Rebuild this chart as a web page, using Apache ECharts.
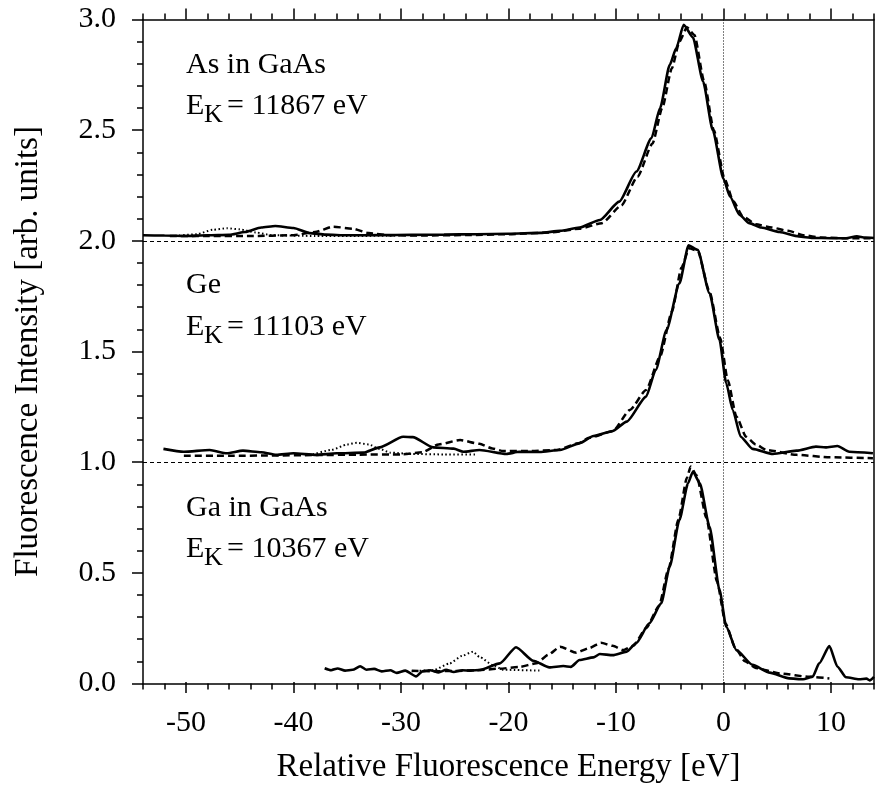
<!DOCTYPE html>
<html>
<head>
<meta charset="utf-8">
<script src="https://cdn.jsdelivr.net/npm/echarts@6/dist/echarts.min.js"></script>
<style>html,body{margin:0;padding:0;background:#fff;}#c{width:876px;height:789px;}</style>
</head>
<body>
<div id="c"></div>
<script>
// ---- data (x: relative energy eV, y: intensity, panels offset by 0/1/2) ----
const xRange = [-54, 14];
const yRange = [0, 3];
const xMajorRange = [-50, 10];
const refLinesY = [1, 2];
const refLineX = 0;

const asSolid = [[-54,2.025],[-52,2.024],[-50,2.022],[-48,2.025],[-46,2.027],[-44.5,2.04],[-43,2.06],[-41.7,2.067],[-40,2.058],[-38.5,2.035],[-37,2.028],[-35,2.025],[-32,2.026],[-29,2.027],[-26,2.028],[-23,2.03],[-20,2.032],[-17,2.036],[-15.2,2.045],[-13.4,2.06],[-11.5,2.094],[-9.7,2.177],[-8.1,2.313],[-6.7,2.464],[-5.9,2.6],[-5.0,2.795],[-4.4,2.87],[-3.7,2.976],[-2.85,2.92],[-1.9,2.72],[-1.0,2.5],[0,2.28],[0.6,2.2],[1.5,2.117],[2.4,2.08],[3.5,2.06],[5.2,2.04],[7,2.02],[8.3,2.013],[10,2.012],[11.4,2.012],[12.4,2.02],[13.2,2.015],[14,2.013]];
const asDashed = [[-51.5,2.022],[-48,2.022],[-44,2.022],[-40,2.025],[-38,2.04],[-36.3,2.064],[-34.5,2.055],[-33,2.035],[-31,2.025],[-28,2.024],[-24,2.026],[-20,2.03],[-16,2.038],[-13.4,2.055],[-11.3,2.08],[-9.5,2.16],[-8,2.29],[-6.6,2.44],[-5.7,2.6],[-4.8,2.78],[-4.1,2.9],[-3.4,2.965],[-2.7,2.93],[-1.8,2.72],[-0.9,2.5],[0.1,2.28],[0.9,2.18],[1.8,2.11],[3,2.075],[4.5,2.06],[6,2.045],[7.5,2.025],[9,2.015],[11,2.012],[14,2.012]];
const asDotted = [[-51,2.022],[-49,2.03],[-47.5,2.05],[-46.2,2.057],[-45,2.052],[-43.5,2.038],[-42,2.025],[-38,2.022],[-34,2.022],[-30,2.024]];

const geSolid = [[-52.1,1.06],[-50.2,1.047],[-47.8,1.055],[-46.2,1.04],[-44.7,1.052],[-43,1.045],[-41.6,1.033],[-40,1.04],[-37.9,1.033],[-36,1.04],[-33.5,1.043],[-32,1.067],[-29.8,1.115],[-28.9,1.113],[-27,1.067],[-25.1,1.061],[-24.2,1.047],[-22.7,1.055],[-20.2,1.037],[-19,1.047],[-17.1,1.046],[-15.2,1.055],[-13.4,1.085],[-12.1,1.118],[-10.3,1.141],[-9.0,1.183],[-7.2,1.296],[-6.3,1.417],[-5.3,1.597],[-4.1,1.808],[-3.25,1.98],[-2.4,1.959],[-1.3,1.763],[-0.37,1.552],[0.25,1.357],[0.86,1.236],[1.6,1.115],[2.7,1.06],[4.6,1.037],[6.8,1.052],[8.6,1.07],[9.5,1.067],[10.6,1.073],[11.7,1.047],[13.9,1.04]];
const geDashed = [[-50.2,1.029],[-46,1.029],[-42,1.03],[-38,1.032],[-34,1.034],[-30,1.035],[-28,1.045],[-26.5,1.08],[-24.5,1.1],[-22.7,1.083],[-21.5,1.062],[-20.5,1.05],[-18,1.05],[-15.5,1.055],[-13.5,1.085],[-12.5,1.11],[-10.3,1.14],[-8.7,1.236],[-7.2,1.326],[-5.9,1.477],[-4.8,1.68],[-3.9,1.88],[-3.2,1.966],[-2.4,1.955],[-1.3,1.77],[-0.3,1.56],[0.4,1.37],[1.2,1.206],[2.1,1.115],[3,1.08],[4,1.055],[6.8,1.033],[9.9,1.022],[13.9,1.018]];
const geDotted = [[-38.2,1.035],[-36.5,1.055],[-35,1.08],[-34.1,1.088],[-33,1.08],[-32,1.06],[-31,1.043],[-29,1.037],[-26,1.035],[-23,1.035]];

const gaSolid = [[-37.1,0.069],[-36.5,0.06],[-35.9,0.068],[-35.2,0.058],[-34.5,0.062],[-33.8,0.078],[-33.2,0.062],[-32.5,0.066],[-31.8,0.055],[-31,0.06],[-30.4,0.048],[-29.6,0.058],[-28.6,0.032],[-28,0.055],[-27.3,0.06],[-26.5,0.05],[-25.8,0.062],[-25.1,0.052],[-24.3,0.06],[-23.5,0.058],[-22.7,0.061],[-20.8,0.091],[-19.3,0.164],[-17.7,0.103],[-16.2,0.073],[-14.9,0.079],[-14.2,0.075],[-13.4,0.106],[-12.1,0.118],[-11.5,0.133],[-10.3,0.128],[-9.0,0.144],[-8.1,0.184],[-6.9,0.272],[-5.8,0.362],[-5.0,0.528],[-4.1,0.739],[-3.3,0.905],[-2.85,0.957],[-2.2,0.905],[-1.3,0.709],[-0.37,0.423],[0.25,0.257],[1.2,0.151],[2.7,0.084],[4.3,0.049],[6.1,0.023],[7.4,0.019],[8.3,0.031],[8.9,0.091],[9.85,0.169],[10.6,0.076],[11.4,0.028],[12.6,0.019],[13.3,0.022],[13.6,0.014],[14,0.03]];
const gaDashed = [[-29,0.058],[-27,0.055],[-25,0.057],[-23,0.06],[-20.8,0.067],[-19,0.075],[-17.4,0.091],[-16.3,0.13],[-15.2,0.166],[-13.7,0.139],[-12.5,0.16],[-11.4,0.184],[-10.3,0.17],[-9.35,0.151],[-8.4,0.17],[-7.2,0.25],[-6.0,0.35],[-5.1,0.52],[-4.2,0.74],[-3.4,0.93],[-3.05,0.98],[-2.5,0.94],[-1.6,0.75],[-0.6,0.46],[0.2,0.27],[1.1,0.16],[2.0,0.1],[3.0,0.07],[5.3,0.045],[8.0,0.03],[9.85,0.023]];
const gaDotted = [[-29,0.055],[-27,0.06],[-25.5,0.09],[-24.3,0.125],[-23.3,0.144],[-22.7,0.12],[-21.4,0.082],[-20.5,0.062],[-17,0.058]];

const panelLabels = [
  {name: 'As in GaAs', ek: '11867'},
  {name: 'Ge', ek: '11103'},
  {name: 'Ga in GaAs', ek: '10367'}
];
const xTitle = 'Relative Fluorescence Energy [eV]';
const yTitle = 'Fluorescence Intensity [arb. units]';

// ---- layout ----
const FONT = '"Liberation Serif", "Times New Roman", Times, serif';
const GL = 143, GT = 19.5, GW = 731, GH = 664;
const pxPerUnit = GW / (xRange[1] - xRange[0]);
const G2L = GL + (xMajorRange[0] - xRange[0]) * pxPerUnit;
const G2W = (xMajorRange[1] - xMajorRange[0]) * pxPerUnit;
const axisColor = '#000';
const TICK_FS = 30, TITLE_FS = 33, ANN_FS = 30, SUB_FS = 26;

const chart = echarts.init(document.getElementById('c'), null, {renderer: 'canvas'});

function lineSeries(data, type, width) {
  return {
    type: 'line', xAxisIndex: 0, yAxisIndex: 0, data: data,
    showSymbol: false, symbol: 'none', smooth: 0.2, smoothMonotone: 'x',
    lineStyle: {color: '#000', width: width, type: type},
    silent: true, z: 3
  };
}

const series = [
  lineSeries(asDotted, [1.5, 2.5], 2),
  lineSeries(geDotted, [1.5, 2.5], 2),
  lineSeries(gaDotted, [1.5, 2.5], 2),
  lineSeries(asDashed, [7, 4], 2.5),
  lineSeries(geDashed, [7, 4], 2.5),
  lineSeries(gaDashed, [7, 4], 2.5),
  lineSeries(asSolid, 'solid', 2.6),
  lineSeries(geSolid, 'solid', 2.6),
  lineSeries(gaSolid, 'solid', 2.6)
];
series.push({
  type: 'line', xAxisIndex: 0, yAxisIndex: 0, data: [], silent: true,
  markLine: {
    silent: true, symbol: 'none', label: {show: false}, animation: false,
    data: refLinesY.map(v => ({yAxis: v, lineStyle: {color: '#000', width: 1, type: [4, 3]}}))
      .concat([{xAxis: refLineX, lineStyle: {color: '#000', width: 1, type: [1, 2]}}])
  }
});

const graphics = [];
const blockCenters = [[65.8, 106.7], [286, 327.3], [508.3, 549.2]];
panelLabels.forEach((p, i) => {
  const [y1, y2] = blockCenters[i];
  graphics.push({type: 'text', left: 186, top: y1 - 15.5, style: {text: p.name, font: ANN_FS + 'px ' + FONT, fill: '#000'}});
  graphics.push({type: 'text', left: 186, top: y2 - 15.5, style: {text: 'E', font: ANN_FS + 'px ' + FONT, fill: '#000'}});
  graphics.push({type: 'text', left: 204, top: y2 - 4.5, style: {text: 'K', font: SUB_FS + 'px ' + FONT, fill: '#000'}});
  graphics.push({type: 'text', left: 227, top: y2 - 15.5, style: {text: '= ' + p.ek + ' eV', font: ANN_FS + 'px ' + FONT, fill: '#000'}});
});

const minorX = {
  min: xRange[0], max: xRange[1], interval: 2,
  axisLine: {show: true, onZero: false, lineStyle: {color: axisColor, width: 1.5}},
  axisTick: {show: true, inside: false, length: 6, lineStyle: {color: axisColor, width: 1.5}},
  axisLabel: {show: false}, splitLine: {show: false}
};
const majorX = {
  min: xMajorRange[0], max: xMajorRange[1], interval: 10,
  axisLine: {show: false, onZero: false},
  axisTick: {show: true, inside: false, length: 11, lineStyle: {color: axisColor, width: 1.5}},
  splitLine: {show: false}
};

chart.setOption({
  animation: false,
  backgroundColor: '#fff',
  grid: [
    {left: GL, top: GT, width: GW, height: GH, containLabel: false},
    {left: G2L, top: GT, width: G2W, height: GH, containLabel: false}
  ],
  xAxis: [
    Object.assign({type: 'value', gridIndex: 0, position: 'bottom'}, minorX),
    Object.assign({type: 'value', gridIndex: 0, position: 'top'}, minorX),
    Object.assign({type: 'value', gridIndex: 1, position: 'bottom',
      axisLabel: {show: true, margin: 26, color: '#000', fontFamily: FONT, fontSize: TICK_FS},
      name: xTitle, nameLocation: 'middle', nameGap: 69,
      nameTextStyle: {color: '#000', fontFamily: FONT, fontSize: TITLE_FS}
    }, majorX),
    Object.assign({type: 'value', gridIndex: 1, position: 'top', axisLabel: {show: false}}, majorX)
  ],
  yAxis: [
    {
      type: 'value', gridIndex: 0, position: 'left', min: yRange[0], max: yRange[1], interval: 0.5,
      axisLine: {show: true, onZero: false, lineStyle: {color: axisColor, width: 1.5}},
      axisTick: {show: true, inside: false, length: 11, lineStyle: {color: axisColor, width: 1.5}},
      minorTick: {show: true, splitNumber: 5, length: 6, lineStyle: {color: axisColor, width: 1.5}},
      axisLabel: {show: true, margin: 27, color: '#000', fontFamily: FONT, fontSize: TICK_FS, formatter: v => v.toFixed(1)},
      splitLine: {show: false}, minorSplitLine: {show: false},
      name: yTitle, nameLocation: 'middle', nameGap: 98,
      nameTextStyle: {color: '#000', fontFamily: FONT, fontSize: TITLE_FS}
    },
    {
      type: 'value', gridIndex: 0, position: 'right', min: yRange[0], max: yRange[1], interval: 0.5,
      axisLine: {show: true, onZero: false, lineStyle: {color: axisColor, width: 1.5}},
      axisTick: {show: false}, axisLabel: {show: false}, splitLine: {show: false}
    },
    {
      type: 'value', gridIndex: 1, min: yRange[0], max: yRange[1], show: false, splitLine: {show: false}
    }
  ],
  series: series,
  graphic: graphics
});
</script>
</body>
</html>
